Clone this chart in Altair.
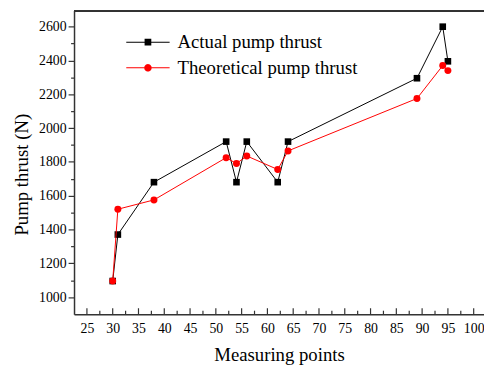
import math
import altair as alt
import pandas as pd

# ---- data ----
x_points = [30, 31, 38, 52, 54, 56, 62, 64, 89, 94, 95]
actual = [1095, 1370, 1680, 1920, 1680, 1920, 1680, 1920, 2295, 2600, 2395]
theoretical = [1095, 1520, 1575, 1825, 1790, 1835, 1755, 1865, 2175, 2370, 2340]
series_names = ["Actual pump thrust", "Theoretical pump thrust"]
x_major_ticks = list(range(25, 101, 5))
x_minor_ticks = [v + 2.5 for v in range(25, 100, 5)]
y_ticks = list(range(1000, 2601, 100))

FONT = "Liberation Serif"
W, H = 416, 308
X_DOMAIN = [22.5, 102]
Y_DOMAIN = [899, 2695]
AX = "#333333"

df = pd.DataFrame({
    "x": x_points * 2,
    "y": actual + theoretical,
    "series": [series_names[0]] * len(x_points) + [series_names[1]] * len(x_points),
})
major_df = pd.DataFrame({"t": x_major_ticks})
minor_df = pd.DataFrame({"t": x_minor_ticks})

xscale = alt.Scale(domain=X_DOMAIN, nice=False, zero=False)
yscale = alt.Scale(domain=Y_DOMAIN, nice=False, zero=False)

xaxis = alt.Axis(
    title="Measuring points", values=x_major_ticks, ticks=False, grid=False, format="d",
    labelFont=FONT, labelFontSize=14, labelColor="black", labelPadding=8,
    labelFlush=False, labelOverlap=False,
    domainColor=AX, domainWidth=1.5,
    titleFont=FONT, titleFontSize=19, titleFontWeight="normal", titleColor="black",
    titlePadding=10,
)
yaxis = alt.Axis(
    title="Pump thrust (N)", values=y_ticks, grid=False, format="d",
    labelExpr="datum.value % 200 === 0 ? datum.label : ''",
    labelFont=FONT, labelFontSize=14, labelColor="black", labelPadding=2,
    labelOverlap=False, labelFlush=False,
    tickColor=AX, tickWidth=1.2,
    tickSize={"condition": {"test": "datum.value % 200 === 0", "value": 6}, "value": 3.5},
    domainColor=AX, domainWidth=1.5,
    titleFont=FONT, titleFontSize=19, titleFontWeight="normal", titleColor="black",
    titleAngle=270, titleBaseline="bottom", titleAlign="center",
    titleX=-43, titleY=H / 2 + 12,
)

X = alt.X("x:Q", scale=xscale, axis=xaxis)
Y = alt.Y("y:Q", scale=yscale, axis=yaxis)

base = alt.Chart(df)
act = base.transform_filter(alt.datum.series == series_names[0])
the = base.transform_filter(alt.datum.series == series_names[1])

line_a = act.mark_line(color="black", strokeWidth=1).encode(x=X, y=Y)
pts_a = act.mark_point(shape="square", filled=True, color="black", size=45, opacity=1).encode(x=X, y=Y)
line_t = the.mark_line(color="#ff0000", strokeWidth=1).encode(x=X, y=Y)
pts_t = the.mark_point(shape="circle", filled=True, color="#ff0000", size=50, opacity=1).encode(x=X, y=Y)

tick_major = alt.Chart(major_df).mark_rule(color=AX, strokeWidth=1.2).encode(
    x=alt.X("t:Q", scale=xscale, axis=xaxis), y=alt.value(H), y2=alt.value(H - 6))
tick_minor = alt.Chart(minor_df).mark_rule(color=AX, strokeWidth=1.2).encode(
    x=alt.X("t:Q", scale=xscale, axis=xaxis), y=alt.value(H), y2=alt.value(H - 3.5))
top_border = alt.Chart(major_df).mark_rule(color=AX, strokeWidth=1.5).encode(
    x=alt.value(0), x2=alt.value(W), y=alt.value(0))

# legend symbols: a line with a marker in the middle (custom path, unit = 10px)
def seg_path(gap):
    t = 0.05
    return (f"M-2.2,{-t}L{-gap},{-t}L{-gap},{t}L-2.2,{t}Z"
            f"M{gap},{-t}L2.2,{-t}L2.2,{t}L{gap},{t}Z")

sq = 0.34
square_path = seg_path(sq) + f"M{-sq},{-sq}L{sq},{-sq}L{sq},{sq}L{-sq},{sq}Z"
r = 0.38
circ_pts = [(r * math.cos(2 * math.pi * k / 24), r * math.sin(2 * math.pi * k / 24)) for k in range(24)]
circle_path = seg_path(r) + "M" + "L".join(f"{px:.3f},{py:.3f}" for px, py in circ_pts) + "Z"

leg = dict(title=None, orient="none", legendX=65, legendY=22,
           labelFont=FONT, labelFontSize=19, labelColor="black", labelLimit=400,
           labelOffset=20, rowPadding=6, padding=0,
           symbolSize=400, symbolStrokeWidth=0, symbolOpacity=1)

legend_layer = base.transform_filter("false").mark_point(
    filled=True, size=400, opacity=1, strokeWidth=0
).encode(
    x=X, y=Y,
    color=alt.Color("series:N", scale=alt.Scale(domain=series_names, range=["black", "#ff0000"]),
                    legend=alt.Legend(**leg)),
    shape=alt.Shape("series:N", scale=alt.Scale(domain=series_names, range=[square_path, circle_path]),
                    legend=alt.Legend(**leg)),
)

chart = alt.layer(
    tick_major, tick_minor, top_border, line_a, pts_a, line_t, pts_t, legend_layer
).properties(
    width=W, height=H,
    autosize=alt.AutoSizeParams(type="none"),
    padding={"left": 67, "top": 0, "right": 0, "bottom": 54},
    background="white",
).configure_view(stroke=None).configure_axis(
    labelFont=FONT, labelFontSize=14, labelColor="black",
    titleFont=FONT, titleFontSize=19, titleFontWeight="normal", titleColor="black",
).configure_legend(labelFont=FONT, labelFontSize=19, labelLimit=400)

chart.save("out.html", embed_options={"renderer": "svg", "actions": False})
